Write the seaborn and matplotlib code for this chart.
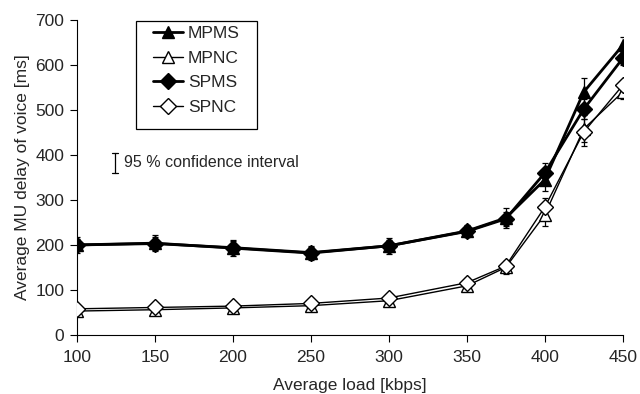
import matplotlib
matplotlib.use("Agg")
import matplotlib.pyplot as plt
from matplotlib.patches import Rectangle
import seaborn as sns
import pandas as pd

load = [100, 150, 200, 250, 300, 350, 375, 400, 425, 450]
mpms = [200, 204, 193, 182, 198, 231, 260, 345, 540, 644]
mpnc = [53, 56, 60, 65, 76, 109, 150, 267, 458, 540]
spms = [200, 203, 194, 183, 198, 230, 258, 360, 502, 615]
spnc = [58, 61, 64, 70, 82, 116, 153, 284, 451, 555]
mpms_err = [18, 18, 18, 15, 18, 14, 22, 25, 32, 18]
mpnc_err = [8, 8, 8, 8, 8, 10, 15, 25, 30, 15]
spms_err = [14, 14, 14, 12, 14, 12, 16, 22, 22, 14]
spnc_err = [8, 8, 8, 8, 8, 10, 12, 20, 30, 12]
series_names = ["MPMS", "MPNC", "SPMS", "SPNC"]
xticks = [100, 150, 200, 250, 300, 350, 400, 450]

sns.set_style("white")
plt.rcParams['font.family'] = ['Liberation Sans', 'DejaVu Sans']

fig = plt.figure(figsize=(6.4, 3.94), dpi=100)
ax = fig.add_axes([0.120, 0.150, 0.853, 0.799])

vals = {"MPMS": mpms, "MPNC": mpnc, "SPMS": spms, "SPNC": spnc}
errs = {"MPMS": mpms_err, "MPNC": mpnc_err, "SPMS": spms_err, "SPNC": spnc_err}
styles = {
    "MPMS": dict(marker="^", mfc="black", lw=2.0, ms=9),
    "MPNC": dict(marker="^", mfc="white", lw=1.0, ms=9),
    "SPMS": dict(marker="D", mfc="black", lw=2.0, ms=8),
    "SPNC": dict(marker="D", mfc="white", lw=1.0, ms=8),
}

for name in series_names:
    st = styles[name]
    df = pd.DataFrame({"load": load, "delay": vals[name]})
    ax.errorbar(load, vals[name], yerr=errs[name], fmt="none", ecolor="black",
                elinewidth=0.9, capsize=2.5, capthick=0.9, zorder=2)
    sns.lineplot(data=df, x="load", y="delay", ax=ax, color="black",
                 linewidth=st["lw"], marker=st["marker"], markersize=st["ms"],
                 markerfacecolor=st["mfc"], markeredgecolor="black",
                 markeredgewidth=1.0, label=name, zorder=3)

ax.set_xlim(100, 450)
ax.set_ylim(0, 700)
ax.set_xticks(xticks)
ax.set_yticks(range(0, 701, 100))
ax.set_xlabel("Average load [kbps]", fontsize=12.5, labelpad=9)
ax.set_ylabel("Average MU delay of voice [ms]", fontsize=12.5, labelpad=4)
ax.tick_params(axis="both", labelsize=12.5, direction="out", length=5, width=0.8,
               color="black", bottom=True, left=True, pad=4)
ax.tick_params(axis="x", pad=6)
for side in ["top", "right"]:
    ax.spines[side].set_visible(False)
for side in ["left", "bottom"]:
    ax.spines[side].set_color("black")
    ax.spines[side].set_linewidth(0.8)

leg = ax.legend(loc="upper left", bbox_to_anchor=(0.140, 0.982), fontsize=12.5,
                frameon=False, handlelength=1.7, handletextpad=0.3, borderpad=0.0,
                labelspacing=0.55, borderaxespad=0.0)
ax.add_patch(Rectangle((0.108, 0.654), 0.222, 0.343, transform=ax.transAxes,
                       fill=False, edgecolor="black", lw=0.9, clip_on=False, zorder=5))

# confidence interval key
xk, y0, y1 = 0.070, 0.515, 0.578
ax.plot([xk, xk], [y0, y1], transform=ax.transAxes, color="black", lw=0.9, clip_on=False)
ax.plot([xk - 0.006, xk + 0.006], [y0, y0], transform=ax.transAxes, color="black", lw=0.9)
ax.plot([xk - 0.006, xk + 0.006], [y1, y1], transform=ax.transAxes, color="black", lw=0.9)
ax.text(xk + 0.016, (y0 + y1) / 2, "95 % confidence interval", transform=ax.transAxes,
        fontsize=11.5, va="center", ha="left")

fig.savefig("out.png", dpi=100)
